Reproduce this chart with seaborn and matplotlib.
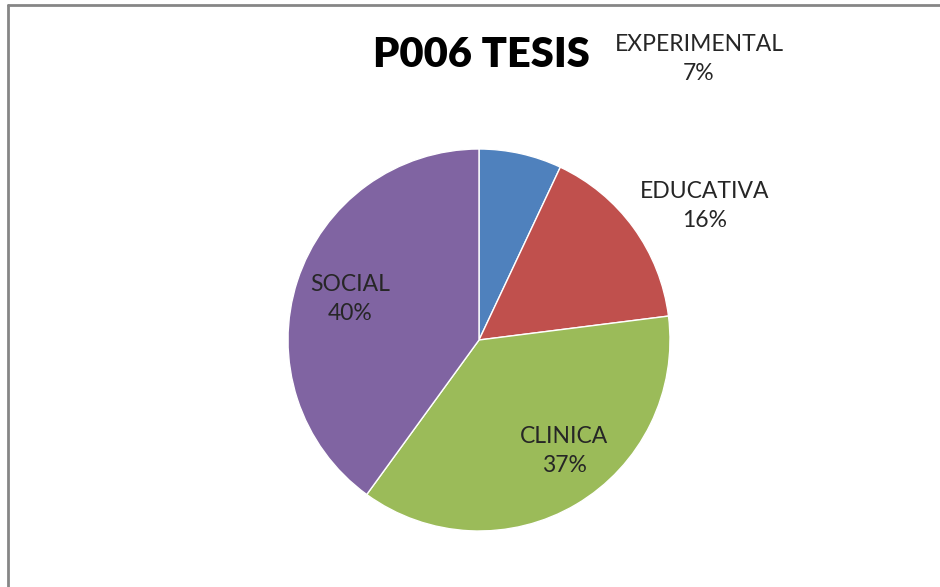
import matplotlib
matplotlib.use("Agg")
import matplotlib.pyplot as plt
from matplotlib.lines import Line2D
import seaborn as sns

sns.set_theme(style="white")
plt.rcParams["font.family"] = ["Lato", "DejaVu Sans"]

# Data
categories = ["EXPERIMENTAL", "EDUCATIVA", "CLINICA", "SOCIAL"]
shares = [7, 16, 37, 40]
colors = ["#4F81BD", "#C0504D", "#9BBB59", "#8064A2"]
title = "P006 TESIS"

# label anchors in pie units (radius = 1), Excel-style placement
label_pos = [(1.152, 1.471), (1.183, 0.702), (0.445, -0.581), (-0.675, 0.215)]

W, H = 940, 587
fig = plt.figure(figsize=(W / 100, H / 100), dpi=100)

# chart frame: only top and left edges show in the crop
fig.add_artist(Line2D([8 / W, 8 / W], [0, 1 - 5 / H], transform=fig.transFigure,
                      color="#868686", lw=2))
fig.add_artist(Line2D([8 / W, 1], [1 - 5 / H, 1 - 5 / H], transform=fig.transFigure,
                      color="#868686", lw=2))

cx, cy, r = 479, 340, 191
ax = fig.add_axes([(cx - r) / W, (H - cy - r) / H, 2 * r / W, 2 * r / H])
ax.pie(shares, colors=colors, startangle=90, counterclock=False, radius=1,
       wedgeprops=dict(edgecolor="white", linewidth=1))
ax.set_xlim(-1, 1)
ax.set_ylim(-1, 1)
ax.set_aspect("equal")
ax.axis("off")

for name, val, (x, y) in zip(categories, shares, label_pos):
    ax.text(x, y, f"{name}\n{val}%", ha="center", va="center", fontsize=16.5,
            color="#262626", linespacing=1.5, clip_on=False)

fig.text(481 / W, 1 - 55 / H, title, ha="center", va="center",
         fontsize=30, fontweight="heavy", color="black")

fig.savefig("out.png", dpi=100)
